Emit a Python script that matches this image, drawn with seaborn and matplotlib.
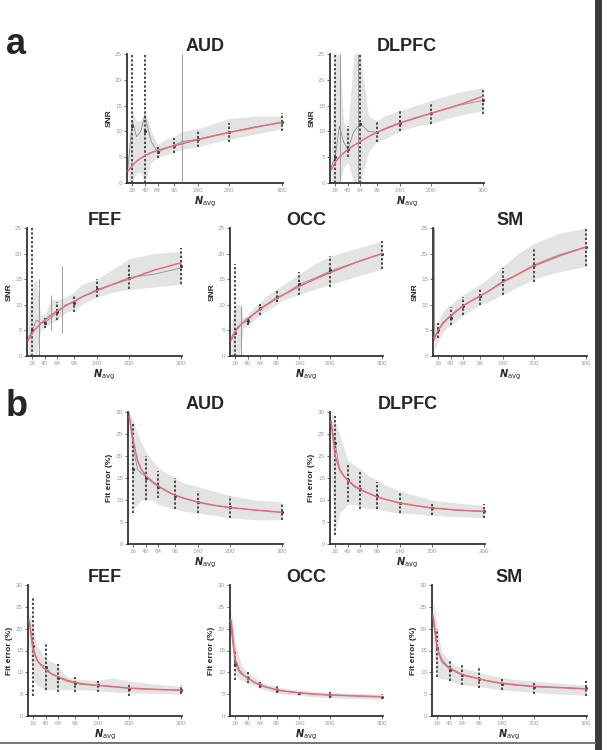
import numpy as np
import pandas as pd
import matplotlib.pyplot as plt
import seaborn as sns

sns.set_theme(style="white")
plt.rcParams['font.family'] = ['Liberation Sans', 'DejaVu Sans']

REGIONS = ["AUD", "DLPFC", "FEF", "OCC", "SM"]
N_GRID = [8, 16, 24, 32, 40, 52, 64, 80, 96, 110, 140, 170, 200, 250, 300]
N_TICKS = [16, 40, 64, 96, 140, 200, 300]

# ---- panel a: SNR ----
snr_fit = {
    "AUD":   [2.3, 3.4, 4.2, 4.8, 5.3, 5.9, 6.3, 6.8, 7.2, 7.6, 8.4, 9.1, 9.8, 10.8, 11.8],
    "DLPFC": [2.5, 4.0, 5.0, 5.8, 6.5, 7.3, 8.0, 9.0, 9.8, 10.4, 11.6, 12.6, 13.5, 15.0, 16.8],
    "FEF":   [3.0, 4.5, 5.5, 6.3, 7.0, 8.0, 8.8, 9.8, 10.7, 11.5, 12.8, 14.0, 15.0, 16.8, 18.2],
    "OCC":   [3.0, 4.7, 5.8, 6.6, 7.3, 8.2, 9.1, 10.2, 11.2, 12.0, 13.6, 15.0, 16.3, 18.3, 20.0],
    "SM":    [3.5, 5.0, 6.2, 7.1, 7.9, 8.9, 9.8, 10.8, 11.7, 12.5, 14.4, 16.0, 17.6, 19.6, 21.3],
}
snr_mean = {
    "AUD":   [3.0, 12.0, 9.0, 10.0, 13.0, 8.0, 6.0, 6.7, 7.3, 8.0, 8.5, 9.2, 9.8, 10.9, 11.7],
    "DLPFC": [3.0, 5.0, 11.0, 8.0, 6.5, 10.0, 11.5, 10.0, 9.8, 10.5, 11.7, 12.5, 13.5, 15.0, 16.0],
    "FEF":   [3.5, 5.0, 7.0, 6.5, 6.5, 7.5, 8.5, 10.0, 10.5, 11.5, 13.0, 14.0, 15.3, 16.0, 17.2],
    "OCC":   [3.5, 5.0, 6.0, 6.5, 6.8, 8.2, 9.3, 10.3, 11.5, 12.0, 14.0, 15.2, 16.6, 18.3, 20.0],
    "SM":    [3.0, 5.0, 6.5, 7.2, 7.6, 8.8, 9.8, 10.8, 11.7, 12.5, 14.6, 16.0, 17.8, 19.8, 21.3],
}
snr_lo = {
    "AUD":   [0.0, 0.0, 2.0, 2.0, 0.0, 4.0, 5.0, 5.5, 6.0, 6.5, 7.0, 7.8, 8.5, 9.5, 10.5],
    "DLPFC": [0.0, 0.0, 0.0, 3.0, 4.0, 0.0, 0.0, 6.0, 8.0, 8.5, 10.0, 11.0, 11.5, 13.0, 14.0],
    "FEF":   [0.0, 1.0, 0.0, 5.0, 5.5, 6.5, 7.0, 8.5, 9.0, 10.0, 11.5, 12.5, 13.0, 13.5, 14.0],
    "OCC":   [0.0, 0.0, 0.0, 5.5, 6.0, 7.0, 8.0, 9.0, 10.0, 11.0, 12.0, 13.0, 14.0, 15.5, 17.0],
    "SM":    [1.0, 3.0, 4.5, 5.5, 6.0, 7.0, 8.0, 9.0, 10.0, 10.5, 12.0, 13.5, 15.0, 16.5, 17.5],
}
snr_hi = {
    "AUD":   [6.0, 14.0, 12.0, 12.0, 14.0, 10.0, 7.5, 8.5, 9.0, 10.0, 10.5, 11.5, 12.5, 13.0, 13.0],
    "DLPFC": [6.0, 25.0, 25.0, 12.0, 10.0, 25.0, 25.0, 13.0, 12.0, 13.0, 14.0, 15.0, 16.0, 17.5, 18.5],
    "FEF":   [7.0, 14.0, 15.0, 8.0, 8.0, 11.0, 11.0, 11.5, 12.5, 14.0, 15.0, 17.0, 19.0, 20.0, 20.5],
    "OCC":   [6.0, 10.0, 10.0, 7.5, 8.0, 9.5, 10.5, 12.0, 13.0, 14.0, 16.0, 18.0, 19.5, 21.0, 22.5],
    "SM":    [6.0, 7.0, 8.5, 9.5, 10.0, 11.0, 12.0, 13.0, 14.0, 15.0, 17.5, 20.0, 22.0, 24.0, 25.0],
}
snr_bar_mid = {
    "AUD":   [11.0, 10.0, 6.0, 7.2, 8.5, 9.8, 11.8],
    "DLPFC": [5.0, 6.5, 11.5, 9.8, 11.7, 13.5, 16.0],
    "FEF":   [5.0, 6.5, 8.5, 10.3, 13.0, 15.3, 17.5],
    "OCC":   [4.5, 6.8, 9.3, 11.5, 14.0, 16.8, 20.0],
    "SM":    [5.0, 7.5, 9.8, 11.7, 14.8, 17.8, 21.3],
}
snr_bar_lo = {
    "AUD":   [0.0, 0.0, 4.8, 5.8, 7.0, 8.0, 10.0],
    "DLPFC": [0.0, 5.0, 0.0, 8.0, 10.0, 11.5, 13.3],
    "FEF":   [0.0, 5.5, 7.0, 8.5, 11.5, 13.0, 14.0],
    "OCC":   [0.0, 6.0, 8.0, 10.5, 12.0, 13.5, 17.0],
    "SM":    [3.5, 6.0, 8.0, 10.0, 12.0, 14.5, 17.5],
}
snr_bar_hi = {
    "AUD":   [30.0, 30.0, 7.3, 8.8, 10.3, 11.7, 13.5],
    "DLPFC": [30.0, 11.0, 30.0, 12.0, 14.0, 15.5, 18.5],
    "FEF":   [30.0, 7.5, 10.5, 12.0, 15.0, 18.0, 21.0],
    "OCC":   [18.0, 7.5, 10.5, 13.0, 16.5, 19.5, 22.5],
    "SM":    [6.5, 9.5, 11.5, 13.3, 17.2, 21.0, 25.0],
}
# thin spikes of the running mean (N, low, high)
snr_spike_n = {"AUD": [110], "DLPFC": [26, 60], "FEF": [28, 52, 72], "OCC": [28], "SM": [8]}
snr_spike_lo = {"AUD": [0.0], "DLPFC": [0.0, 0.0], "FEF": [0.0, 5.0, 4.5], "OCC": [0.0], "SM": [4.0]}
snr_spike_hi = {"AUD": [25.0], "DLPFC": [25.0, 25.0], "FEF": [15.0, 12.0, 17.5], "OCC": [10.0], "SM": [25.0]}

# ---- panel b: fit error (%) ----
err_fit = {
    "AUD":   [29.0, 23.5, 19.0, 16.8, 15.5, 14.2, 13.2, 12.0, 11.1, 10.5, 9.5, 8.8, 8.3, 7.7, 7.2],
    "DLPFC": [28.0, 20.0, 17.0, 15.5, 14.5, 13.3, 12.4, 11.5, 10.7, 10.2, 9.3, 8.7, 8.2, 7.7, 7.4],
    "FEF":   [22.0, 15.0, 12.7, 11.5, 10.6, 9.6, 9.0, 8.2, 7.7, 7.4, 7.0, 6.7, 6.4, 6.1, 5.9],
    "OCC":   [22.0, 13.0, 10.5, 9.4, 8.7, 7.8, 7.1, 6.5, 6.0, 5.7, 5.3, 5.0, 4.8, 4.6, 4.4],
    "SM":    [23.0, 15.5, 13.0, 11.8, 11.0, 10.2, 9.5, 9.0, 8.5, 8.1, 7.5, 7.1, 6.8, 6.5, 6.2],
}
err_mean = {
    "AUD":   [30.0, 22.0, 17.0, 16.0, 15.3, 14.0, 13.0, 12.0, 11.0, 10.5, 9.5, 8.8, 8.3, 7.7, 7.2],
    "DLPFC": [27.0, 23.0, 17.0, 15.5, 14.5, 13.0, 12.3, 11.5, 10.8, 10.2, 9.3, 8.7, 8.2, 7.7, 7.4],
    "FEF":   [22.0, 16.0, 12.5, 11.8, 11.3, 9.5, 8.8, 8.0, 7.5, 7.2, 7.0, 6.8, 6.3, 6.1, 5.9],
    "OCC":   [20.0, 12.0, 10.0, 9.3, 8.7, 7.8, 7.0, 6.5, 6.0, 5.7, 5.3, 5.0, 4.8, 4.6, 4.4],
    "SM":    [22.0, 15.5, 12.5, 11.5, 10.7, 10.0, 9.3, 8.9, 8.5, 8.1, 7.4, 7.0, 6.7, 6.5, 6.3],
}
err_lo = {
    "AUD":   [25.0, 8.0, 9.0, 10.0, 10.0, 10.0, 9.0, 8.5, 8.0, 7.5, 7.0, 6.5, 6.0, 5.5, 5.5],
    "DLPFC": [15.0, 3.0, 7.0, 8.0, 9.0, 9.0, 8.5, 8.0, 8.0, 7.5, 7.0, 6.8, 6.5, 6.2, 6.0],
    "FEF":   [17.0, 8.0, 7.0, 6.5, 6.0, 6.0, 6.0, 6.0, 6.0, 6.0, 5.8, 5.5, 5.3, 5.2, 5.0],
    "OCC":   [18.0, 10.0, 8.5, 8.0, 7.5, 7.0, 6.3, 5.8, 5.3, 5.0, 4.7, 4.4, 4.2, 4.0, 3.8],
    "SM":    [17.0, 9.0, 8.5, 8.5, 8.0, 7.5, 7.2, 7.0, 6.7, 6.5, 6.0, 5.7, 5.4, 5.0, 4.8],
}
err_hi = {
    "AUD":   [30.0, 28.0, 25.0, 23.0, 21.0, 19.0, 17.5, 16.0, 15.0, 14.0, 13.0, 12.0, 11.0, 10.0, 9.5],
    "DLPFC": [30.0, 28.0, 25.0, 22.0, 19.0, 18.0, 17.0, 15.5, 14.5, 13.5, 12.0, 11.0, 10.0, 9.3, 8.8],
    "FEF":   [24.0, 20.0, 16.0, 14.5, 13.0, 12.5, 11.5, 9.0, 8.5, 8.3, 8.2, 8.7, 8.0, 7.3, 6.8],
    "OCC":   [24.0, 17.0, 13.0, 11.0, 10.0, 9.0, 8.0, 7.2, 6.8, 6.4, 5.9, 5.6, 5.4, 5.2, 5.0],
    "SM":    [27.0, 20.0, 15.0, 13.5, 12.5, 11.5, 11.0, 10.5, 10.0, 9.5, 8.8, 8.3, 8.0, 7.5, 7.0],
}
err_bar_mid = {
    "AUD":   [17.0, 15.0, 13.0, 11.0, 9.5, 8.3, 7.2],
    "DLPFC": [23.0, 14.5, 12.5, 11.0, 9.3, 8.2, 7.5],
    "FEF":   [16.0, 11.3, 8.7, 7.5, 7.0, 6.2, 6.0],
    "OCC":   [12.0, 8.7, 7.0, 6.0, 5.3, 4.8, 4.4],
    "SM":    [15.5, 10.5, 9.3, 8.5, 7.3, 6.7, 6.3],
}
err_bar_lo = {
    "AUD":   [7.0, 10.0, 10.5, 8.0, 7.0, 6.0, 5.5],
    "DLPFC": [2.0, 9.5, 8.0, 8.0, 7.0, 6.5, 6.0],
    "FEF":   [4.5, 6.0, 5.5, 5.5, 5.5, 4.5, 5.0],
    "OCC":   [8.2, 7.5, 6.3, 5.3, 4.7, 4.2, 3.8],
    "SM":    [9.0, 8.0, 7.0, 6.5, 6.0, 5.0, 4.5],
}
err_bar_hi = {
    "AUD":   [27.5, 20.0, 16.5, 15.0, 12.0, 11.0, 9.0],
    "DLPFC": [29.0, 18.5, 16.5, 14.0, 11.5, 9.5, 9.0],
    "FEF":   [27.0, 16.5, 12.0, 9.0, 8.5, 7.5, 7.0],
    "OCC":   [15.0, 10.0, 7.7, 6.8, 5.8, 5.5, 5.0],
    "SM":    [20.0, 12.5, 12.0, 11.0, 9.0, 8.0, 8.0],
}

FIT_COLOR = "#e26d78"
BAND_COLOR = "#dedede"
MEAN_COLOR = "#8c8c8c"
BAR_COLOR = "#3c3c3c"


def draw_panel(ax, region, fit, mean, lo, hi, bmid, blo, bhi, ymax, ylabel,
               spikes=None):
    df = pd.DataFrame({"N": N_GRID, "fit": fit[region], "mean": mean[region],
                       "lo": lo[region], "hi": hi[region]})
    ax.fill_between(df["N"], df["lo"], df["hi"], color=BAND_COLOR,
                    alpha=0.85, lw=0, zorder=1)
    if spikes is not None:
        sn, slo, shi = spikes
        ax.vlines(sn[region], slo[region], shi[region], color=MEAN_COLOR,
                  lw=0.6, zorder=2)
    sns.lineplot(data=df, x="N", y="mean", ax=ax, color=MEAN_COLOR, lw=0.6,
                 zorder=2)
    mid = np.array(bmid[region])
    eb = ax.errorbar(N_TICKS, mid, yerr=[mid - np.array(blo[region]),
                                         np.array(bhi[region]) - mid],
                     fmt="none", ecolor=BAR_COLOR, elinewidth=1.3, zorder=3)
    eb[2][0].set_linestyle((0, (1.3, 1.1)))
    ax.scatter(N_TICKS, mid, s=5, color=BAR_COLOR, zorder=4, lw=0)
    sns.lineplot(data=df, x="N", y="fit", ax=ax, color=FIT_COLOR, lw=1.1,
                 zorder=5)

    ax.set_xlim(6, 302)
    ax.set_ylim(0, ymax)
    ax.set_xticks(N_TICKS)
    ax.set_yticks(np.arange(0, ymax + 1, 5))
    ax.tick_params(axis="both", labelsize=4.5, labelcolor="#9a9a9a",
                   length=2, width=0.6, color="#555", pad=1.5,
                   bottom=True, left=True)
    for s in ["top", "right"]:
        ax.spines[s].set_visible(False)
    for s in ["left", "bottom"]:
        ax.spines[s].set_color("#333")
        ax.spines[s].set_linewidth(1.3)
    ax.set_title(region, fontsize=13, fontweight="bold", pad=2)
    ax.set_ylabel(ylabel, fontsize=6, fontweight="bold", labelpad=2)
    ax.set_xlabel(r"$\mathbfit{N}_{\mathrm{avg}}$", fontsize=7, labelpad=1.5)


W, H = 608, 750
fig = plt.figure(figsize=(W / 100, H / 100), dpi=100)


def add_axes(x0, x1, y0, y1):
    return fig.add_axes([x0 / W, 1 - y1 / H, (x1 - x0) / W, (y1 - y0) / H])


# pixel boxes (left, right, top, bottom)
layout_a = {"AUD": (127, 283, 54, 183), "DLPFC": (330, 484, 54, 183),
            "FEF": (27, 182, 228, 356), "OCC": (230, 383, 228, 356),
            "SM": (433, 587, 228, 356)}
layout_b = {"AUD": (128, 283, 412, 544), "DLPFC": (330, 485, 412, 544),
            "FEF": (28, 182, 585, 716), "OCC": (230, 383, 585, 716),
            "SM": (432, 587, 585, 716)}

for r in REGIONS:
    x0, x1, y0, y1 = layout_a[r]
    ax = add_axes(x0, x1, y0, y1)
    draw_panel(ax, r, snr_fit, snr_mean, snr_lo, snr_hi, snr_bar_mid,
               snr_bar_lo, snr_bar_hi, 25, "SNR",
               spikes=(snr_spike_n, snr_spike_lo, snr_spike_hi))
    x0, x1, y0, y1 = layout_b[r]
    ax = add_axes(x0, x1, y0, y1)
    draw_panel(ax, r, err_fit, err_mean, err_lo, err_hi, err_bar_mid,
               err_bar_lo, err_bar_hi, 30, "Fit error (%)")

fig.text(6 / W, 1 - 44 / H, "a", fontsize=26, fontweight="bold", va="center")
fig.text(6 / W, 1 - 406 / H, "b", fontsize=26, fontweight="bold", va="center")

# frame pieces of the original figure
fig.add_artist(plt.Line2D([597.5 / W, 597.5 / W], [0, 1], color="#3a3a3a",
                          lw=5, transform=fig.transFigure))
fig.add_artist(plt.Line2D([0, 595 / W], [1 - 743 / H, 1 - 743 / H],
                          color="#777", lw=1.5, transform=fig.transFigure))

fig.savefig("out.png", dpi=100)
